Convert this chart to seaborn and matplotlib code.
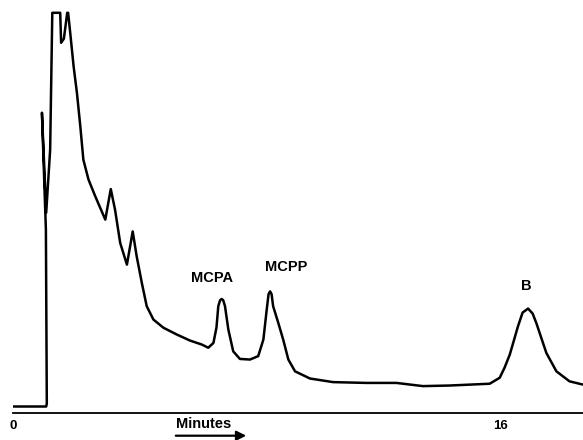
import matplotlib.pyplot as plt
import numpy as np
import pandas as pd
import seaborn as sns

# Chromatogram trace (time in minutes, response in arbitrary units)
time_min = [
    0.00, 1.08, 1.10, 1.07, 0.94, 1.08, 1.21, 1.28, 1.54, 1.57, 1.66, 1.77, 1.80,
    1.87, 1.98, 2.09, 2.20, 2.30, 2.47, 2.69, 3.02, 3.20, 3.34, 3.51, 3.73, 3.92,
    4.05, 4.22, 4.38, 4.60, 4.93, 5.37, 5.80, 6.19, 6.40, 6.57, 6.67, 6.73, 6.79,
    6.84, 6.89, 6.95, 7.06, 7.22, 7.44, 7.77, 8.04, 8.21, 8.32, 8.38, 8.43, 8.48,
    8.53, 8.70, 8.86, 9.03, 9.25, 9.74, 10.50, 11.60, 12.58, 13.45, 14.33, 15.64,
    15.97, 16.13, 16.30, 16.57, 16.72, 16.90, 17.05, 17.17, 17.50, 17.83, 18.26,
    18.69,
]
response = [
    1.5, 1.5, 2.25, 45.75, 75.0, 50.0, 65.75, 100.0, 100.0, 92.5, 93.5, 100.0, 100.0,
    94.9, 86.6, 79.9, 71.6, 63.25, 58.25, 54.1, 48.25, 55.9, 50.75, 42.4, 37.0, 45.3,
    39.1, 32.4, 26.6, 23.25, 21.2, 19.5, 18.0, 17.0, 16.2, 17.4, 21.25, 26.6, 28.1,
    28.4, 28.1, 26.6, 20.75, 15.3, 13.4, 13.25, 14.1, 18.25, 25.75, 29.6, 30.3, 29.6,
    26.6, 22.4, 18.25, 13.25, 10.3, 8.5, 7.6, 7.4, 7.4, 6.6, 6.75, 7.2,
    8.7, 11.25, 14.5, 21.6, 25.0, 26.0, 24.75, 22.4, 14.9, 10.3, 7.8,
    7.0,
]

# Peak annotations
peak_names = ["MCPA", "MCPP", "B"]
peak_label_t = [6.52, 8.95, 16.83]
peak_label_s = [33.75, 36.5, 31.6]

# Axis ticks
tick_values = [0, 16]
tick_labels = ["0", "16"]

df = pd.DataFrame({"time": time_min, "response": response})

sns.set_style("white")
plt.rcParams["font.family"] = ["Liberation Sans", "DejaVu Sans"]
plt.rcParams["text.color"] = "black"

fig = plt.figure(figsize=(5.83, 4.4), dpi=100)
ax = fig.add_axes([13.3 / 583, 0.0625, 1 - 13.3 / 583, 0.9375])

sns.lineplot(
    data=df,
    x="time",
    y="response",
    sort=False,
    estimator=None,
    color="black",
    linewidth=1.8,
    ax=ax,
)
ax.lines[0].set_solid_joinstyle("round")
ax.lines[0].set_solid_capstyle("round")

for name, t, s in zip(peak_names, peak_label_t, peak_label_s):
    ax.text(t, s, name, ha="center", va="center", fontsize=10.5,
            fontweight="bold", color="black")

ax.set_xlim(0, (583 - 13.3) / 30.46)
ax.set_ylim(0, 103.2)
ax.set_xticks(tick_values)
ax.set_xticklabels(tick_labels, fontsize=9.5, fontweight="bold", color="black")
ax.set_yticks([])
ax.set_xlabel("")
ax.set_ylabel("")
ax.tick_params(axis="x", direction="out", length=4, width=1.2, pad=1.5,
               color="black", labelcolor="black")
sns.despine(ax=ax, left=True)
ax.spines["bottom"].set_linewidth(1.3)
ax.spines["bottom"].set_color("black")

# "Minutes" with arrow underneath
fig.text(204 / 583, 1 - 423.5 / 440, "Minutes", ha="center", va="center",
         fontsize=10.5, fontweight="bold", color="black")
ax.annotate(
    "",
    xy=(249 / 583, 1 - 435.7 / 440),
    xytext=(173 / 583, 1 - 435.7 / 440),
    xycoords="figure fraction",
    textcoords="figure fraction",
    arrowprops=dict(arrowstyle="-|>", color="black", lw=1.6, mutation_scale=14),
    annotation_clip=False,
)

fig.savefig("out.png", dpi=100)
